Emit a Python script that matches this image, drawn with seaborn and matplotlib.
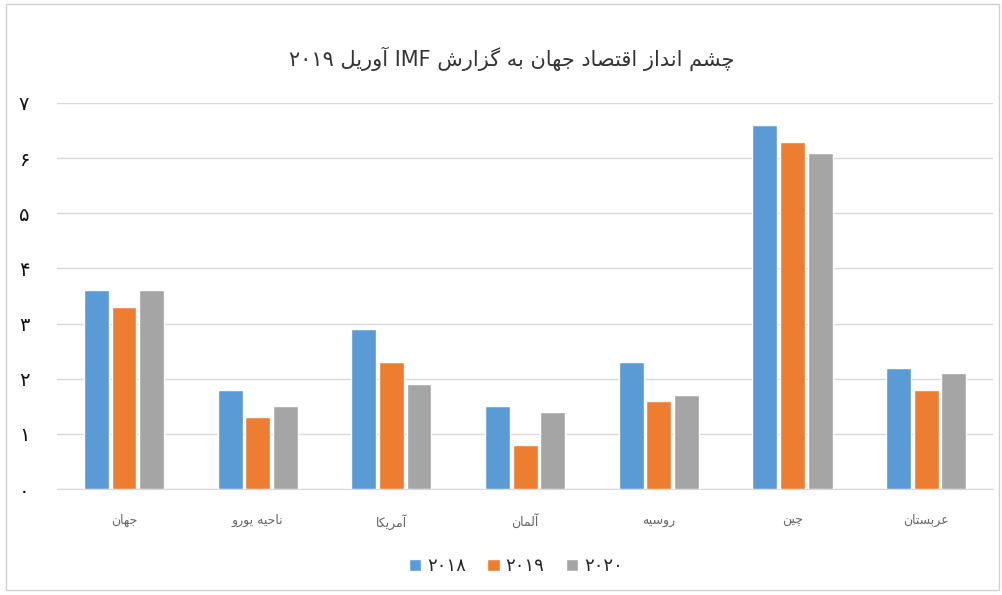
import matplotlib
matplotlib.use("Agg")
import matplotlib.pyplot as plt
import numpy as np
import pandas as pd
import seaborn as sns
from matplotlib.patches import Rectangle

# ---------------- data ----------------
categories = ["جهان", "ناحیه یورو", "آمریکا", "آلمان", "روسیه", "چین", "عربستان"]
years = ["۲۰۱۸", "۲۰۱۹", "۲۰۲۰"]
v2018 = [3.6, 1.8, 2.9, 1.5, 2.3, 6.6, 2.2]
v2019 = [3.3, 1.3, 2.3, 0.8, 1.6, 6.3, 1.8]
v2020 = [3.6, 1.5, 1.9, 1.4, 1.7, 6.1, 2.1]
yticks = [0, 1, 2, 3, 4, 5, 6, 7]
ytick_labels = ["۰", "۱", "۲", "۳", "۴", "۵", "۶", "۷"]
title = "چشم انداز اقتصاد جهان به گزارش IMF آوریل ۲۰۱۹"
colors = ["#5B9BD5", "#ED7D31", "#A5A5A5"]

# ---------------- minimal Persian shaping (presentation forms + RTL) ----------------
FORMS = {
    "ا": ("\uFE8D", "\uFE8E"), "آ": ("\uFE81", "\uFE82"),
    "د": ("\uFEA9", "\uFEAA"), "ذ": ("\uFEAB", "\uFEAC"),
    "ر": ("\uFEAD", "\uFEAE"), "ز": ("\uFEAF", "\uFEB0"),
    "و": ("\uFEED", "\uFEEE"),
    "ب": ("\uFE8F", "\uFE90", "\uFE91", "\uFE92"),
    "پ": ("\uFB56", "\uFB57", "\uFB58", "\uFB59"),
    "ت": ("\uFE95", "\uFE96", "\uFE97", "\uFE98"),
    "ج": ("\uFE9D", "\uFE9E", "\uFE9F", "\uFEA0"),
    "چ": ("\uFB7A", "\uFB7B", "\uFB7C", "\uFB7D"),
    "ح": ("\uFEA1", "\uFEA2", "\uFEA3", "\uFEA4"),
    "س": ("\uFEB1", "\uFEB2", "\uFEB3", "\uFEB4"),
    "ش": ("\uFEB5", "\uFEB6", "\uFEB7", "\uFEB8"),
    "ص": ("\uFEB9", "\uFEBA", "\uFEBB", "\uFEBC"),
    "ع": ("\uFEC9", "\uFECA", "\uFECB", "\uFECC"),
    "ق": ("\uFED5", "\uFED6", "\uFED7", "\uFED8"),
    "ک": ("\uFB8E", "\uFB8F", "\uFB90", "\uFB91"),
    "گ": ("\uFB92", "\uFB93", "\uFB94", "\uFB95"),
    "ل": ("\uFEDD", "\uFEDE", "\uFEDF", "\uFEE0"),
    "م": ("\uFEE1", "\uFEE2", "\uFEE3", "\uFEE4"),
    "ن": ("\uFEE5", "\uFEE6", "\uFEE7", "\uFEE8"),
    "ه": ("\uFEE9", "\uFEEA", "\uFEEB", "\uFEEC"),
    "ی": ("\uFBFC", "\uFBFD", "\uFBFE", "\uFBFF"),
}


def shape_word(w):
    out = []
    n = len(w)
    for i, c in enumerate(w):
        if c not in FORMS:
            out.append(c)
            continue
        f = FORMS[c]
        prev = w[i - 1] if i > 0 else None
        nxt = w[i + 1] if i + 1 < n else None
        pj = prev is not None and prev in FORMS and len(FORMS[prev]) == 4
        nj = len(f) == 4 and nxt is not None and nxt in FORMS
        if pj and nj:
            out.append(f[3])
        elif pj:
            out.append(f[1])
        elif nj:
            out.append(f[2])
        else:
            out.append(f[0])
    return "".join(out)


def fa(text):
    words = text.split(" ")
    res = []
    for w in reversed(words):
        if any(ch in FORMS for ch in w):
            res.append(shape_word(w)[::-1])
        else:
            res.append(w)
    return " ".join(res)


# ---------------- build frame ----------------
cat_disp = [fa(c) for c in categories]
rows = []
for yr, vals in zip(years, [v2018, v2019, v2020]):
    for c, v in zip(cat_disp, vals):
        rows.append({"cat": c, "year": yr, "val": v})
df = pd.DataFrame(rows)

sns.set_style("white")
plt.rcParams["font.family"] = ["DejaVu Sans"]

fig = plt.figure(figsize=(10.03, 5.95), dpi=100)
ax = fig.add_axes([0.057, 0.178, 0.933, 0.649])

sns.barplot(data=df, x="cat", y="val", hue="year", order=cat_disp,
            hue_order=years, palette=colors, width=0.62, gap=0.1,
            saturation=1, ax=ax, zorder=3)

ax.set_ylim(0, 7)
ax.set_xlim(-0.5, len(categories) - 0.5)
ax.set_yticks(yticks)
ax.set_yticklabels(ytick_labels, fontsize=14, color="#111111")
ax.tick_params(axis="y", length=0, pad=20)
ax.tick_params(axis="x", length=0, pad=18, labelsize=9, labelcolor="#666666")
ax.set_xlabel("")
ax.set_ylabel("")
ax.grid(axis="y", color="#D9D9D9", linewidth=1, zorder=0)
for s in ["top", "right", "left"]:
    ax.spines[s].set_visible(False)
ax.spines["bottom"].set_color("#D9D9D9")

leg = ax.legend(loc="center", bbox_to_anchor=(0.49, -0.2), ncol=3,
                frameon=False, fontsize=13, handlelength=0.7,
                handleheight=0.7, handletextpad=0.3, columnspacing=1.2)

fig.text(0.51, 0.902, fa(title), ha="center", va="center",
         fontsize=15, color="#333333")

fig.patches.append(Rectangle((0.006, 0.008), 0.99, 0.985, transform=fig.transFigure,
                             fill=False, edgecolor="#D0D0D0", linewidth=1))

fig.savefig("out.png", dpi=100, facecolor="white")
